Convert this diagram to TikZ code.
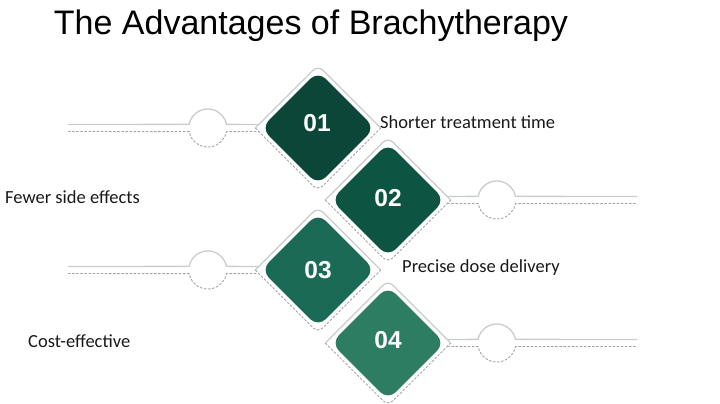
\documentclass[tikz,border=0pt]{standalone}
\usepackage{fontspec}
\setmainfont{Carlito}
\newfontfamily\headfont{Liberation Sans}
\usetikzlibrary{shapes.geometric}
\definecolor{tileA}{RGB}{11,70,56}
\definecolor{tileB}{RGB}{14,84,67}
\definecolor{tileC}{RGB}{27,106,85}
\definecolor{tileD}{RGB}{45,125,98}
\definecolor{rimGray}{RGB}{200,205,204}
\definecolor{dashGray}{RGB}{160,166,165}
\definecolor{textGray}{RGB}{25,25,25}
\tikzset{
  tile/.style={diamond, aspect=1, inner sep=0pt, minimum size=114pt, rounded corners=11pt},
  rim/.style={diamond, aspect=1, inner sep=0pt, minimum size=125pt},
  bump/.style={circle, inner sep=0pt, minimum size=38pt},
  numtext/.style={text=white, font=\headfont\bfseries\fontsize{24.5}{25}\selectfont},
  caption/.style={anchor=west, inner sep=0pt, text=textGray, font=\fontsize{18.5}{20}\selectfont},
  solidline/.style={draw=rimGray, line width=1.3pt},
  dashline/.style={draw=dashGray, line width=0.9pt, dash pattern=on 2.5pt off 1.6pt},
}
\begin{document}
\begin{tikzpicture}[x=1pt,y=1pt]
\useasboundingbox (0,0) rectangle (720,-404);

\node[font=\headfont\fontsize{34}{36}\selectfont, anchor=base] (title) at (311,-35) {The Advantages of Brachytherapy};

\node[rim] (o1) at (318,-128) {};
\node[rim] (o2) at (388,-200) {};
\node[rim] (o3) at (318,-270) {};
\node[rim] (o4) at (388,-343) {};

\node[tile, fill=tileA] (d1) at (318,-128) {};
\node[tile, fill=tileB] (d2) at (388,-200) {};
\node[tile, fill=tileC] (d3) at (318,-270) {};
\node[tile, fill=tileD] (d4) at (388,-343) {};

\node[numtext] (n1) at (317,-123) {01};
\node[numtext] (n2) at (388,-198) {02};
\node[numtext] (n3) at (318,-270) {03};
\node[numtext] (n4) at (388,-340) {04};

\draw[solidline, rounded corners=7pt] (o1.west) -- (o1.north) -- (o1.east);
\draw[dashline, rounded corners=7pt] (o1.west) -- (o1.south) -- (o1.east);
\draw[solidline, rounded corners=7pt] (o2.west) -- (o2.north) -- (o2.east);
\draw[dashline, rounded corners=7pt] (o2.west) -- (o2.south) -- (o2.east);
\draw[solidline, rounded corners=7pt] (o3.west) -- (o3.north) -- (o3.east);
\draw[dashline, rounded corners=7pt] (o3.west) -- (o3.south) -- (o3.east);
\draw[solidline, rounded corners=7pt] (o4.west) -- (o4.north) -- (o4.east);
\draw[dashline, rounded corners=7pt] (o4.west) -- (o4.south) -- (o4.east);

\coordinate (s1) at (68,-128);
\coordinate (s3) at (68,-270);
\coordinate (e2) at (637,-200);
\coordinate (e4) at (637,-343);
\node[bump] (c1) at (208,-128) {};
\node[bump] (c2) at (497,-200) {};
\node[bump] (c3) at (208,-270) {};
\node[bump] (c4) at (497,-343) {};

\draw[solidline] ([yshift=3.5pt]s1) -- (c1.169) arc[start angle=169, end angle=11, radius=19pt] -- ([shift={(3.5pt,3.5pt)}]o1.west);
\draw[dashline] ([yshift=-3.5pt]s1) -- (c1.191) arc[start angle=191, end angle=349, radius=19pt] -- ([shift={(3.5pt,-3.5pt)}]o1.west);
\draw[solidline] ([yshift=3.5pt]s3) -- (c3.169) arc[start angle=169, end angle=11, radius=19pt] -- ([shift={(3.5pt,3.5pt)}]o3.west);
\draw[dashline] ([yshift=-3.5pt]s3) -- (c3.191) arc[start angle=191, end angle=349, radius=19pt] -- ([shift={(3.5pt,-3.5pt)}]o3.west);
\draw[solidline] ([shift={(-3.5pt,3.5pt)}]o2.east) -- (c2.169) arc[start angle=169, end angle=11, radius=19pt] -- ([yshift=3.5pt]e2);
\draw[dashline] ([shift={(-3.5pt,-3.5pt)}]o2.east) -- (c2.191) arc[start angle=191, end angle=349, radius=19pt] -- ([yshift=-3.5pt]e2);
\draw[solidline] ([shift={(-3.5pt,3.5pt)}]o4.east) -- (c4.169) arc[start angle=169, end angle=11, radius=19pt] -- ([yshift=3.5pt]e4);
\draw[dashline] ([shift={(-3.5pt,-3.5pt)}]o4.east) -- (c4.191) arc[start angle=191, end angle=349, radius=19pt] -- ([yshift=-3.5pt]e4);

\node[caption] (t1) at (380,-122) {Shorter treatment time};
\node[caption] (t2) at (5,-197) {Fewer side effects};
\node[caption] (t3) at (402,-268) {Precise dose delivery};
\node[caption] (t4) at (28,-341) {Cost-effective};
\end{tikzpicture}
\end{document}
